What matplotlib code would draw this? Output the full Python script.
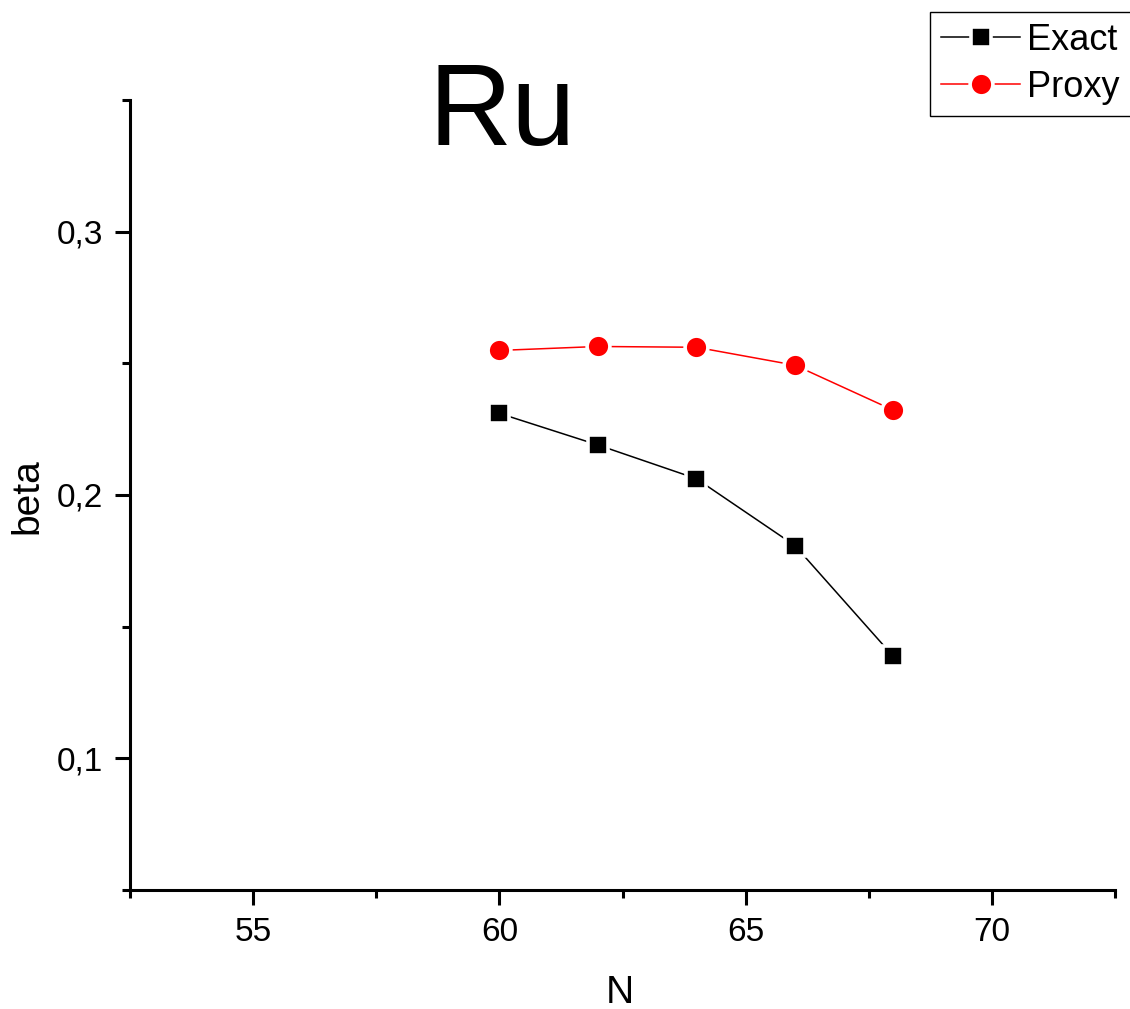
import matplotlib
matplotlib.use("Agg")
import matplotlib.pyplot as plt
from matplotlib.ticker import FixedLocator, FixedFormatter

plt.rcParams['font.family'] = ['Liberation Sans', 'DejaVu Sans']

# Data
N = [60, 62, 64, 66, 68]
exact = [0.231, 0.219, 0.2062, 0.1808, 0.1387]
proxy = [0.2549, 0.2564, 0.2561, 0.2493, 0.2322]
xticks = [55, 60, 65, 70]
xticklabels = ['55', '60', '65', '70']
yticks = [0.1, 0.2, 0.3]
yticklabels = ['0,1', '0,2', '0,3']
xminor = [52.5, 57.5, 62.5, 67.5, 72.5]
yminor = [0.05, 0.15, 0.25, 0.35]

W, H = 1130, 1009
fig = plt.figure(figsize=(W / 100, H / 100), dpi=100)
ax = fig.add_axes([130 / W, 1 - 890 / H, (1115 - 130) / W, (890 - 100) / H])

ax.plot(N, exact, color='black', lw=1.1, marker='s', ms=14.8, mfc='black',
        mec='white', mew=2.6, label='Exact')
ax.plot(N, proxy, color='red', lw=1.1, marker='o', ms=16.4, mfc='red',
        mec='white', mew=2.6, label='Proxy')

ax.set_xlim(52.5, 72.5)
ax.set_ylim(0.05, 0.35)
for s in ['top', 'right']:
    ax.spines[s].set_visible(False)
for s in ['left', 'bottom']:
    ax.spines[s].set_linewidth(2.2)
    ax.spines[s].set_capstyle('projecting')

ax.xaxis.set_major_locator(FixedLocator(xticks))
ax.xaxis.set_major_formatter(FixedFormatter(xticklabels))
ax.yaxis.set_major_locator(FixedLocator(yticks))
ax.yaxis.set_major_formatter(FixedFormatter(yticklabels))
ax.xaxis.set_minor_locator(FixedLocator(xminor))
ax.yaxis.set_minor_locator(FixedLocator(yminor))
ax.tick_params(which='major', direction='out', length=11, width=2.2, labelsize=24, pad=8.5)
ax.tick_params(which='minor', direction='out', length=5.5, width=2.2)

fig.text(620 / W, 1 - 1003 / H, 'N', fontsize=28, ha='center', va='baseline')
fig.text(27 / W, 1 - 496 / H, 'beta', fontsize=28, ha='center', va='center', rotation=90)
fig.text(502 / W, 1 - 145 / H, 'Ru', fontsize=83, ha='center', va='baseline')

leg = fig.legend(loc='upper left', bbox_to_anchor=(930 / W, 1 - 12 / H), fontsize=26,
                 frameon=True, fancybox=False, edgecolor='black', framealpha=1,
                 handlelength=2.2, handletextpad=0.2, borderpad=0.3,
                 labelspacing=0.33, borderaxespad=0)
leg.get_frame().set_linewidth(1.0)

fig.savefig('out.png', dpi=100)
